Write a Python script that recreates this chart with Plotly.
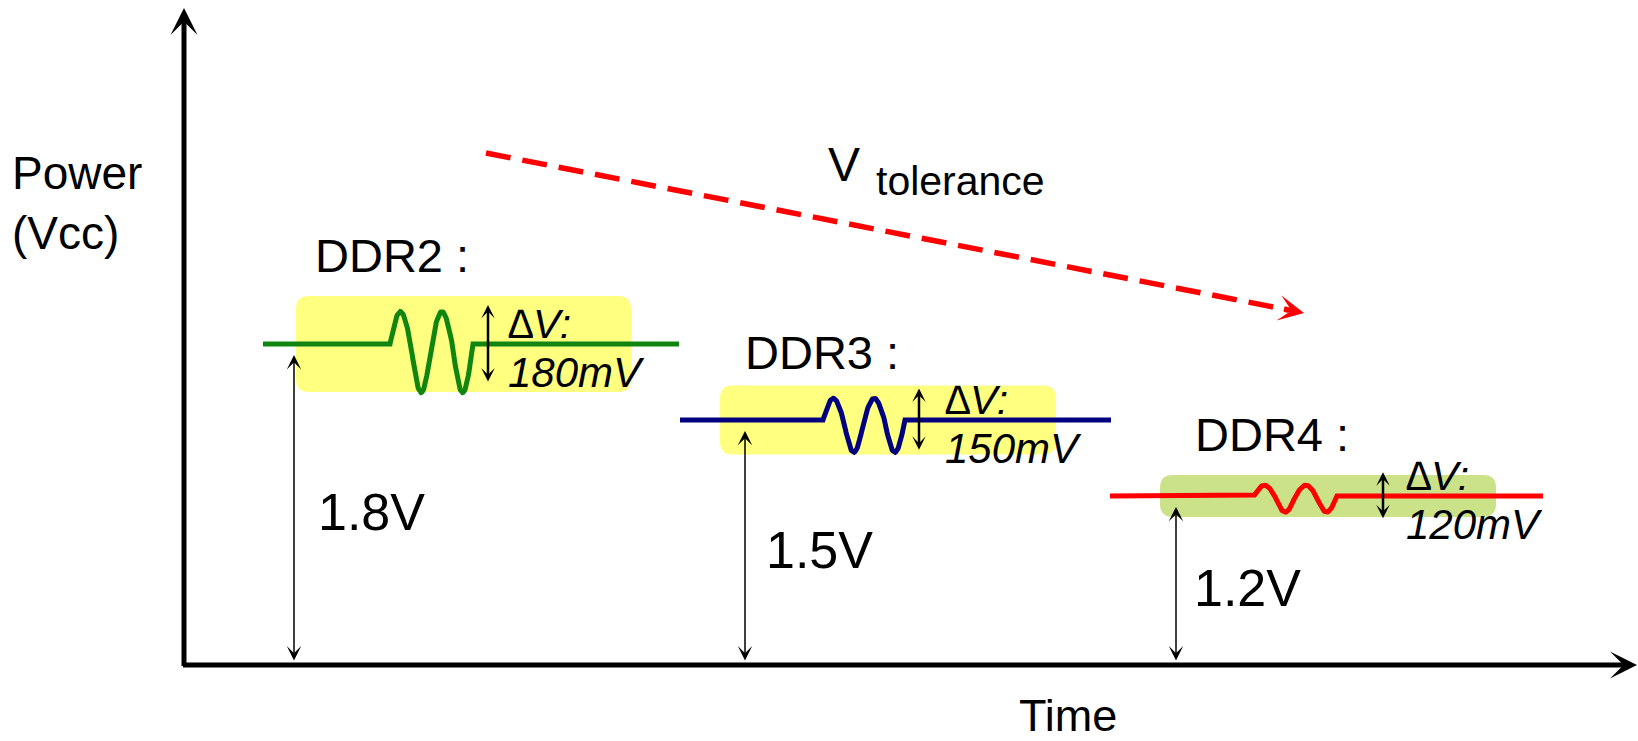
import numpy as np
import plotly.graph_objects as go

# ---------------- values ----------------
generations = ["DDR2", "DDR3", "DDR4"]
vcc_volts = [1.8, 1.5, 1.2]
ripple_mv = [180, 150, 120]
vcc_text = ["1.8V", "1.5V", "1.2V"]
ripple_text = ["180mV", "150mV", "120mV"]
y_title = "Power<br>(Vcc)"
x_title = "Time"
trend_title = ["V", "tolerance"]

# ---------------- canvas and scales ----------------
W, H = 1638, 741
PX_PER_T = 10.0      # pixels per time unit
PX_PER_V = 253.3     # pixels per volt
T_MIN = -18.4
V_TOP = 3.158
T_MAX = T_MIN + W / PX_PER_T
V_BOTTOM = V_TOP - H / PX_PER_V


def tpx(px):
    """pixel length -> time units"""
    return px / PX_PER_T


def vpx(px):
    """pixel length -> volts"""
    return px / PX_PER_V


V_FLOOR = V_TOP - vpx(665)       # level where the time axis is drawn
V_AXIS_END = V_TOP - vpx(8)

# ripple bursts are drawn exaggerated above a 90 mV floor so they read at this scale
RIPPLE_FLOOR_MV = 90
RIPPLE_GAIN = 3.553

# ---------------- layout of the three segments (time units) ----------------
trace_span = [(7.9, 49.5), (49.6, 92.7), (92.6, 135.9)]
burst_span = [(20.6, 28.9), (63.9, 72.1), (107.0, 115.3)]
panel_span = [(11.2, 44.7), (53.6, 87.2), (97.6, 131.2)]
vcc_arrow_t = [11.0, 56.1, 99.2]
dv_arrow_t = [30.4, 73.5, 119.9]
dv_text_t = [32.2, 75.9, 122.0]
name_t = [12.9, 55.9, 100.9]
name_above_px = [88, 67, 61]
vcc_label_t = [13.2, 58.0, 100.8]

trace_colors = ["#108510", "#000080", "#FF0000"]
panel_colors = ["#FFFF80", "#FFFF80", "#CCE288"]

# tolerance trend arrow (time, volts)
trend_t = [30.2, 112.0]
trend_v = [V_TOP - vpx(153), V_TOP - vpx(313)]

FONT = "Liberation Sans, Arial, Helvetica, sans-serif"

fig = go.Figure()
shapes = []
annotations = []


def rounded_rect(x0, x1, y0, y1, r_px=13):
    rx, ry = tpx(r_px), vpx(r_px)
    return (f"M{x0 + rx},{y1} L{x1 - rx},{y1} Q{x1},{y1} {x1},{y1 - ry} "
            f"L{x1},{y0 + ry} Q{x1},{y0} {x1 - rx},{y0} "
            f"L{x0 + rx},{y0} Q{x0},{y0} {x0},{y0 + ry} "
            f"L{x0},{y1 - ry} Q{x0},{y1} {x0 + rx},{y1} Z")


for i, name in enumerate(generations):
    level = vcc_volts[i]
    pp = (ripple_mv[i] - RIPPLE_FLOOR_MV) / 1000 * RIPPLE_GAIN
    pp_px = pp * PX_PER_V

    # highlight panel behind the trace
    half = vpx(pp_px / 2 + 7.5)
    shapes.append(dict(type="path", xref="x", yref="y", layer="below",
                       path=rounded_rect(panel_span[i][0], panel_span[i][1],
                                         level - half, level + half),
                       fillcolor=panel_colors[i], line=dict(width=0)))

    # supply trace: flat rail with a two-cycle ripple burst
    phase = np.linspace(0, 4 * np.pi, 161)
    s = np.sin(phase)
    wave = np.where(s > 0, 0.4 * pp * s, 0.6 * pp * s)
    b0, b1 = burst_span[i]
    t = np.concatenate([[trace_span[i][0]], b0 + (b1 - b0) * phase / (4 * np.pi),
                        [trace_span[i][1]]])
    v = level + np.concatenate([[0.0], wave, [0.0]])
    fig.add_trace(go.Scatter(x=t, y=v, mode="lines", name=name,
                             line=dict(color=trace_colors[i], width=5),
                             hoverinfo="skip", showlegend=False))

    # rail voltage: double arrow from the time axis up to the rail
    annotations.append(dict(x=vcc_arrow_t[i], y=level - vpx(11),
                            ax=vcc_arrow_t[i], ay=V_FLOOR + vpx(3),
                            xref="x", yref="y", axref="x", ayref="y",
                            showarrow=True, arrowside="end+start",
                            arrowhead=3, startarrowhead=3,
                            arrowsize=1.6, startarrowsize=1.6,
                            arrowwidth=1.5, arrowcolor="black", text=""))
    mid_px = ((V_TOP - level) * PX_PER_V + 665) / 2 + 8
    annotations.append(dict(x=vcc_label_t[i], y=V_TOP - vpx(mid_px),
                            xref="x", yref="y", showarrow=False,
                            xanchor="left", yanchor="middle", text=vcc_text[i],
                            font=dict(family=FONT, size=52, color="black")))

    # ripple amplitude arrow and label
    ahalf = vpx(pp_px / 2 * 0.57 + 16)
    annotations.append(dict(x=dv_arrow_t[i], y=level + ahalf,
                            ax=dv_arrow_t[i], ay=level - ahalf,
                            xref="x", yref="y", axref="x", ayref="y",
                            showarrow=True, arrowside="end+start",
                            arrowhead=3, startarrowhead=3,
                            arrowsize=0.9, startarrowsize=0.9,
                            arrowwidth=2.5, arrowcolor="black", text=""))
    annotations.append(dict(x=dv_text_t[i], y=level + vpx(20),
                            xref="x", yref="y", showarrow=False,
                            xanchor="left", yanchor="middle", text="<i>∆V:</i>",
                            font=dict(family=FONT, size=41, color="black")))
    annotations.append(dict(x=dv_text_t[i], y=level - vpx(29),
                            xref="x", yref="y", showarrow=False,
                            xanchor="left", yanchor="middle",
                            text=f"<i>{ripple_text[i]}</i>",
                            font=dict(family=FONT, size=42, color="black")))

    # generation name
    annotations.append(dict(x=name_t[i], y=level + vpx(name_above_px[i]),
                            xref="x", yref="y", showarrow=False,
                            xanchor="left", yanchor="middle", text=f"{name} :",
                            font=dict(family=FONT, size=47, color="black")))

# tolerance trend: dashed line with a head at the end
dx_px = (trend_t[1] - trend_t[0]) * PX_PER_T
dy_px = (trend_v[0] - trend_v[1]) * PX_PER_V
L = np.hypot(dx_px, dy_px)
ux, uy = dx_px / L, dy_px / L
fig.add_trace(go.Scatter(x=[trend_t[0], trend_t[1] - tpx(16 * ux)],
                         y=[trend_v[0], trend_v[1] + vpx(16 * uy)],
                         mode="lines", line=dict(color="#FF0000", width=5.5, dash="25px,12px"),
                         hoverinfo="skip", showlegend=False))
annotations.append(dict(x=trend_t[1], y=trend_v[1],
                        ax=trend_t[1] - tpx(22 * ux), ay=trend_v[1] + vpx(22 * uy),
                        xref="x", yref="y", axref="x", ayref="y",
                        showarrow=True, arrowhead=3, arrowsize=0.85,
                        arrowwidth=5, arrowcolor="#FF0000", text=""))
annotations.append(dict(x=T_MIN + tpx(826), y=V_TOP - vpx(164),
                        xref="x", yref="y", showarrow=False,
                        xanchor="left", yanchor="middle", text=trend_title[0],
                        font=dict(family=FONT, size=48, color="black")))
annotations.append(dict(x=T_MIN + tpx(874), y=V_TOP - vpx(181),
                        xref="x", yref="y", showarrow=False,
                        xanchor="left", yanchor="middle", text=trend_title[1],
                        font=dict(family=FONT, size=41, color="black")))

# axes drawn as arrows
annotations.append(dict(x=0, y=V_AXIS_END, ax=0, ay=V_FLOOR - vpx(2.5),
                        xref="x", yref="y", axref="x", ayref="y",
                        showarrow=True, arrowhead=3, arrowsize=0.9,
                        arrowwidth=5, arrowcolor="black", text=""))
annotations.append(dict(x=T_MAX - tpx(1), y=V_FLOOR, ax=-tpx(2.5), ay=V_FLOOR,
                        xref="x", yref="y", axref="x", ayref="y",
                        showarrow=True, arrowhead=3, arrowsize=0.9,
                        arrowwidth=5, arrowcolor="black", text=""))

# axis titles
annotations.append(dict(x=T_MIN + tpx(10), y=V_TOP - vpx(203),
                        xref="x", yref="y", showarrow=False,
                        xanchor="left", yanchor="middle", align="left", text=y_title,
                        font=dict(family=FONT, size=46, color="black")))
annotations.append(dict(x=T_MIN + tpx(1017), y=V_TOP - vpx(715),
                        xref="x", yref="y", showarrow=False,
                        xanchor="left", yanchor="middle", text=x_title,
                        font=dict(family=FONT, size=45, color="black")))

fig.update_layout(
    width=W, height=H,
    margin=dict(l=0, r=0, t=0, b=0),
    paper_bgcolor="white", plot_bgcolor="white",
    xaxis=dict(range=[T_MIN, T_MAX], visible=False, fixedrange=True),
    yaxis=dict(range=[V_BOTTOM, V_TOP], visible=False, fixedrange=True),
    shapes=shapes, annotations=annotations, showlegend=False,
)

fig.write_html("out.html", config={"displayModeBar": False})
